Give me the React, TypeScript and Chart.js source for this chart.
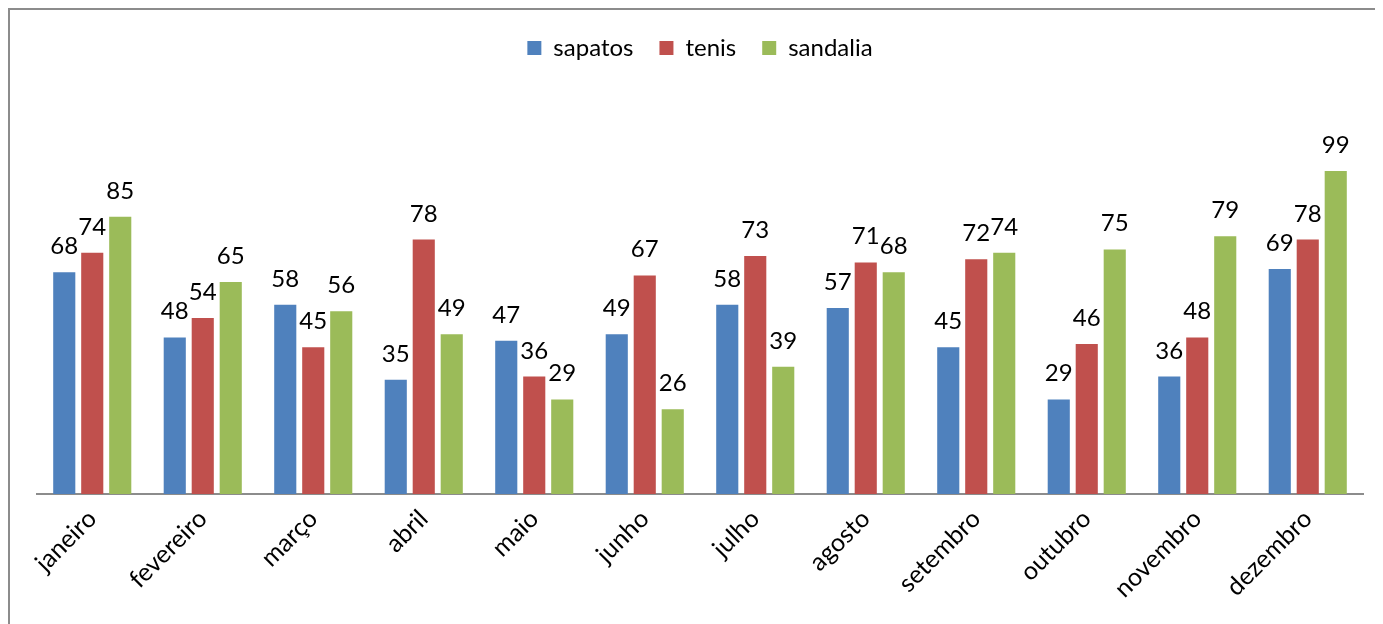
import React, { useEffect, useRef } from "react";
import { Chart, registerables } from "chart.js";

Chart.register(...registerables);

const months = ["janeiro", "fevereiro", "março", "abril", "maio", "junho", "julho", "agosto", "setembro", "outubro", "novembro", "dezembro"];
const sapatos = [68, 48, 58, 35, 47, 49, 58, 57, 45, 29, 36, 69];
const tenis = [74, 54, 45, 78, 36, 67, 73, 71, 72, 46, 48, 78];
const sandalia = [85, 65, 56, 49, 29, 26, 39, 68, 74, 75, 79, 99];

const FONT = "Lato, 'Open Sans', sans-serif";

const valueLabels = {
  id: "valueLabels",
  afterDatasetsDraw(chart: any) {
    const ctx = chart.ctx;
    ctx.save();
    ctx.font = `24px ${FONT}`;
    ctx.fillStyle = "#000";
    ctx.textAlign = "center";
    ctx.textBaseline = "alphabetic";
    chart.data.datasets.forEach((ds: any, i: number) => {
      const meta = chart.getDatasetMeta(i);
      meta.data.forEach((el: any, j: number) => {
        ctx.fillText(String(ds.data[j]), el.x, el.y - 18);
      });
    });
    ctx.restore();
  },
};

export default function App() {
  const ref = useRef<HTMLCanvasElement>(null);
  useEffect(() => {
    if (!ref.current) return;
    const chart = new Chart(ref.current, {
      type: "bar",
      data: {
        labels: months,
        datasets: [
          { label: "sapatos", data: sapatos, backgroundColor: "#4F81BD" },
          { label: "tenis", data: tenis, backgroundColor: "#C0504D" },
          { label: "sandalia", data: sandalia, backgroundColor: "#9BBB59" },
        ],
      },
      options: {
        animation: false,
        responsive: false,
        maintainAspectRatio: false,
        layout: { padding: { top: 0, left: 27, right: 20, bottom: 0 } },
        datasets: { bar: { categoryPercentage: 0.76, barPercentage: 0.79 } } as any,
        plugins: {
          legend: {
            position: "top",
            labels: {
              boxWidth: 14,
              boxHeight: 14,
              padding: 26,
              color: "#000",
              font: { size: 24, family: FONT },
            },
          },
          tooltip: { enabled: false },
        },
        scales: {
          x: {
            grid: { display: false },
            border: { display: true, color: "#8c8c8c", width: 2 },
            ticks: {
              minRotation: 45,
              maxRotation: 45,
              color: "#000",
              padding: 2,
              font: { size: 25, family: FONT },
            },
            afterFit: (scale: any) => {
              scale.height = 130;
            },
          },
          y: {
            display: false,
            min: 0,
            max: 130,
          },
        },
      },
      plugins: [valueLabels],
    });
    return () => chart.destroy();
  }, []);
  return (
    <div
      style={{
        width: 1375,
        height: 616,
        boxSizing: "border-box",
        borderLeft: "2px solid #8c8c8c",
        borderTop: "2px solid #8c8c8c",
        position: "relative",
        background: "#fff",
      }}
    >
      <canvas ref={ref} width={1373} height={614} style={{ display: "block" }} />
    </div>
  );
}
